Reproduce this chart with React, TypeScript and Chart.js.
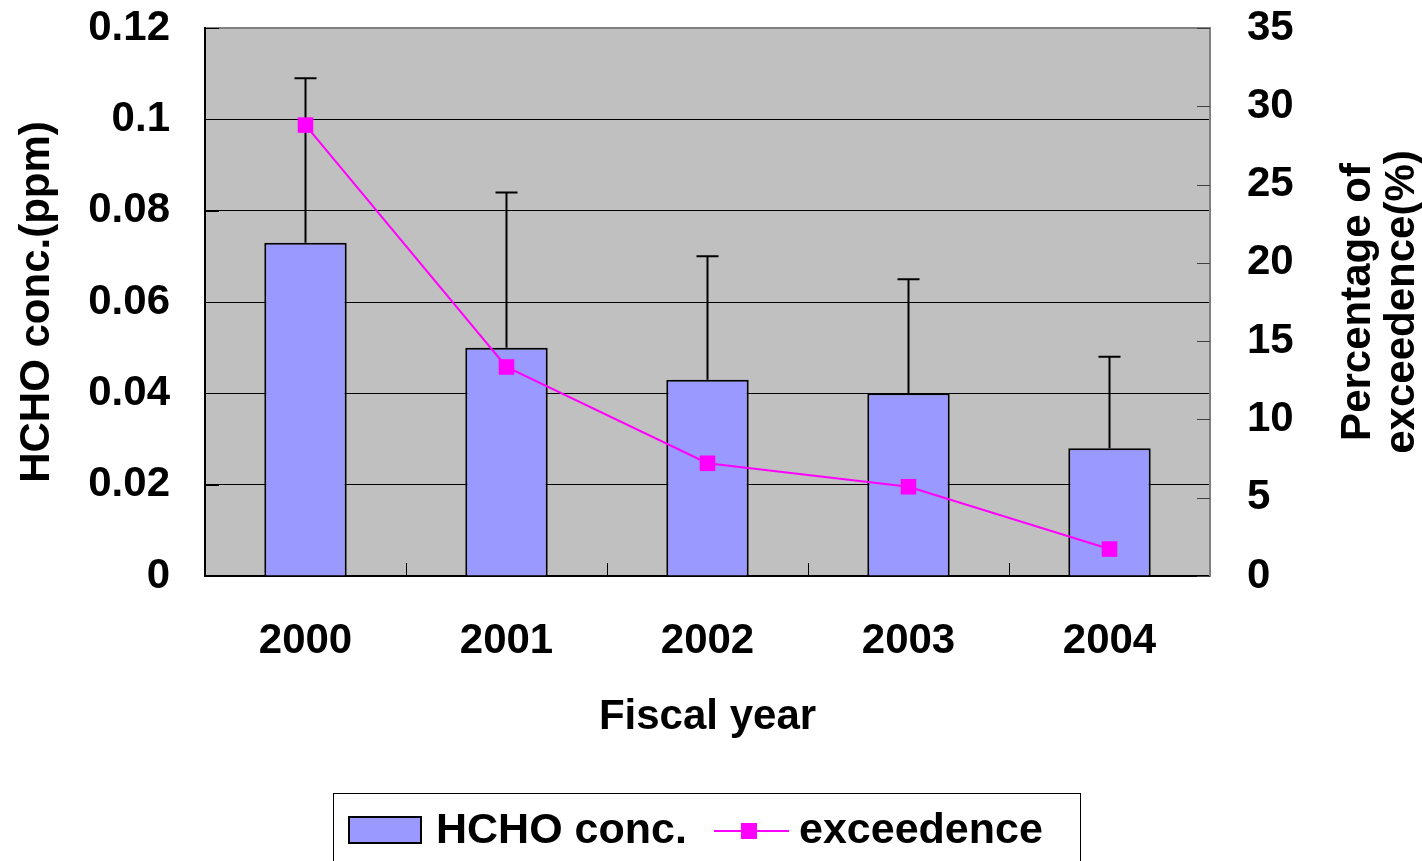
import React, { useEffect, useRef } from "react";
import { Chart, registerables } from "chart.js";

Chart.register(...registerables);

const categories = ["2000", "2001", "2002", "2003", "2004"];
const hchoConc = [0.073, 0.050, 0.043, 0.040, 0.028];
const hchoSD = [0.036, 0.034, 0.027, 0.025, 0.020];
const exceedence = [28.8, 13.35, 7.2, 5.7, 1.72];
const leftTicks = [0, 0.02, 0.04, 0.06, 0.08, 0.1, 0.12];
const leftTickLabels = ["0", "0.02", "0.04", "0.06", "0.08", "0.1", "0.12"];
const rightTickLabels = ["0", "5", "10", "15", "20", "25", "30", "35"];
const seriesLabels = ["HCHO conc.", "exceedence"];
const xTitle = "Fiscal year";
const yTitle = "HCHO conc.(ppm)";
const y1Title = ["Percentage of", "exceedence(%)"];

const FONT = "'Liberation Sans', Arial, sans-serif";
const BAR_COLOR = "#9999ff";
const LINE_COLOR = "#ff00ff";

const customPlugin = {
  id: "customDecor",
  beforeDraw(chart: any) {
    const { ctx, chartArea } = chart;
    ctx.save();
    ctx.fillStyle = "#c0c0c0";
    ctx.fillRect(chartArea.left, chartArea.top, chartArea.right - chartArea.left, chartArea.bottom - chartArea.top);
    ctx.restore();
  },
  afterDatasetDraw(chart: any, args: any) {
    if (args.index !== 0) return;
    const { ctx } = chart;
    const xs = chart.scales.x;
    const ys = chart.scales.y;
    ctx.save();
    ctx.strokeStyle = "#000";
    ctx.lineWidth = 2;
    hchoConc.forEach((v, i) => {
      const x = xs.getPixelForValue(i);
      const yb = ys.getPixelForValue(v);
      const yt = ys.getPixelForValue(v + hchoSD[i]);
      ctx.beginPath();
      ctx.moveTo(x, yb);
      ctx.lineTo(x, yt);
      ctx.moveTo(x - 11, yt);
      ctx.lineTo(x + 11, yt);
      ctx.stroke();
    });
    ctx.restore();
  },
  afterDraw(chart: any) {
    const { ctx, chartArea } = chart;
    const xs = chart.scales.x;
    const ys = chart.scales.y;
    const y1 = chart.scales.y1;
    ctx.save();
    // inward tick marks
    ctx.strokeStyle = "#000";
    ctx.lineWidth = 1;
    ys.ticks.forEach((t: any) => {
      const y = Math.round(ys.getPixelForValue(t.value)) + 0.5;
      ctx.beginPath();
      ctx.moveTo(chartArea.left, y);
      ctx.lineTo(chartArea.left + 14, y);
      ctx.stroke();
    });
    ctx.strokeStyle = "#404040";
    y1.ticks.forEach((t: any) => {
      const y = Math.round(y1.getPixelForValue(t.value)) + 0.5;
      ctx.beginPath();
      ctx.moveTo(chartArea.right - 13, y);
      ctx.lineTo(chartArea.right, y);
      ctx.stroke();
    });
    ctx.strokeStyle = "#000";
    for (let i = 0; i < categories.length - 1; i++) {
      const x = Math.round((xs.getPixelForValue(i) + xs.getPixelForValue(i + 1)) / 2) + 0.5;
      ctx.beginPath();
      ctx.moveTo(x, chartArea.bottom);
      ctx.lineTo(x, chartArea.bottom - 13);
      ctx.stroke();
    }

    // right axis title, reading bottom to top
    ctx.fillStyle = "#000";
    ctx.font = `bold 42px ${FONT}`;
    ctx.textAlign = "center";
    ctx.textBaseline = "middle";
    const cy = (chartArea.top + chartArea.bottom) / 2;
    [1358, 1402].forEach((cx, i) => {
      ctx.save();
      ctx.translate(cx, cy);
      ctx.rotate(-Math.PI / 2);
      ctx.fillText(y1Title[i], 0, 0);
      ctx.restore();
    });

    // legend
    const ds = chart.data.datasets;
    ctx.strokeStyle = "#000";
    ctx.lineWidth = 1;
    ctx.strokeRect(333.5, 793.5, 747, 100);
    ctx.fillStyle = ds[0].backgroundColor;
    ctx.fillRect(349, 817, 72, 26);
    ctx.lineWidth = 2;
    ctx.strokeRect(349, 817, 72, 26);
    ctx.fillStyle = "#000";
    ctx.font = `bold 43px ${FONT}`;
    ctx.textAlign = "left";
    ctx.textBaseline = "middle";
    ctx.fillText(ds[0].label, 436, 831);
    ctx.strokeStyle = ds[1].borderColor;
    ctx.lineWidth = 2;
    ctx.beginPath();
    ctx.moveTo(714, 831);
    ctx.lineTo(789, 831);
    ctx.stroke();
    ctx.fillStyle = ds[1].pointBackgroundColor;
    ctx.fillRect(741, 823, 16, 16);
    ctx.fillStyle = "#000";
    ctx.fillText(ds[1].label, 799, 831);
    ctx.restore();
  },
};

export default function App() {
  const canvasRef = useRef<HTMLCanvasElement>(null);

  useEffect(() => {
    if (!canvasRef.current) return;
    const tickFont = { family: FONT, size: 42, weight: "bold" as const };
    const chart = new Chart(canvasRef.current, {
      type: "bar",
      data: {
        labels: categories,
        datasets: [
          {
            type: "bar",
            label: seriesLabels[0],
            data: hchoConc,
            backgroundColor: BAR_COLOR,
            borderColor: "#000",
            borderWidth: 2,
            barPercentage: 0.41,
            categoryPercentage: 1,
            yAxisID: "y",
            order: 1,
          },
          {
            type: "line",
            label: seriesLabels[1],
            data: exceedence,
            borderColor: LINE_COLOR,
            backgroundColor: LINE_COLOR,
            borderWidth: 2,
            pointStyle: "rect",
            pointRadius: 11,
            pointBackgroundColor: LINE_COLOR,
            pointBorderColor: LINE_COLOR,
            pointBorderWidth: 0,
            tension: 0,
            yAxisID: "y1",
            order: 0,
          } as any,
        ],
      },
      options: {
        responsive: false,
        animation: false,
        devicePixelRatio: 1,
        layout: { padding: { top: 28, bottom: 85, left: 0, right: 0 } },
        plugins: {
          legend: { display: false },
          tooltip: { enabled: false },
        },
        scales: {
          x: {
            grid: { display: false, drawTicks: false },
            border: { display: true, color: "#000", width: 2 },
            ticks: { color: "#000", font: tickFont, padding: 40 },
            title: {
              display: true,
              text: xTitle,
              color: "#000",
              font: tickFont,
              padding: { top: 0, bottom: 33 },
            },
            afterFit(scale: any) {
              scale.height = 200;
              scale.paddingLeft = 0;
              scale.paddingRight = 0;
            },
          },
          y: {
            position: "left",
            min: 0,
            max: 0.12,
            afterBuildTicks(scale: any) {
              scale.ticks = leftTicks.map((v) => ({ value: v }));
            },
            grid: {
              drawTicks: false,
              color: (c: any) => (c.tick && c.tick.value >= 0.12 ? "#808080" : "#000"),
              lineWidth: (c: any) => (c.tick && c.tick.value >= 0.12 ? 2 : 1),
            },
            border: { display: true, color: "#000", width: 2 },
            ticks: {
              color: "#000",
              font: tickFont,
              padding: 35,
              callback: (_v: any, i: number) => leftTickLabels[i],
            },
            title: {
              display: true,
              text: yTitle,
              color: "#000",
              font: tickFont,
              padding: { top: 12, bottom: 0 },
            },
            afterFit(scale: any) {
              scale.width = 205;
              scale.paddingTop = 0;
              scale.paddingBottom = 0;
            },
          },
          y1: {
            position: "right",
            min: 0,
            max: 35,
            ticks: {
              stepSize: 5,
              color: "#000",
              font: tickFont,
              padding: 37,
              callback: (_v: any, i: number) => rightTickLabels[i],
            },
            grid: { display: false, drawTicks: false, drawOnChartArea: false },
            border: { display: true, color: "#808080", width: 2 },
            afterFit(scale: any) {
              scale.width = 212;
              scale.paddingTop = 0;
              scale.paddingBottom = 0;
            },
          },
        },
      },
      plugins: [customPlugin],
    });
    return () => chart.destroy();
  }, []);

  return (
    <div style={{ position: "absolute", left: 0, top: 0, width: 1422, height: 861, background: "#fff" }}>
      <canvas ref={canvasRef} width={1422} height={861} />
    </div>
  );
}
